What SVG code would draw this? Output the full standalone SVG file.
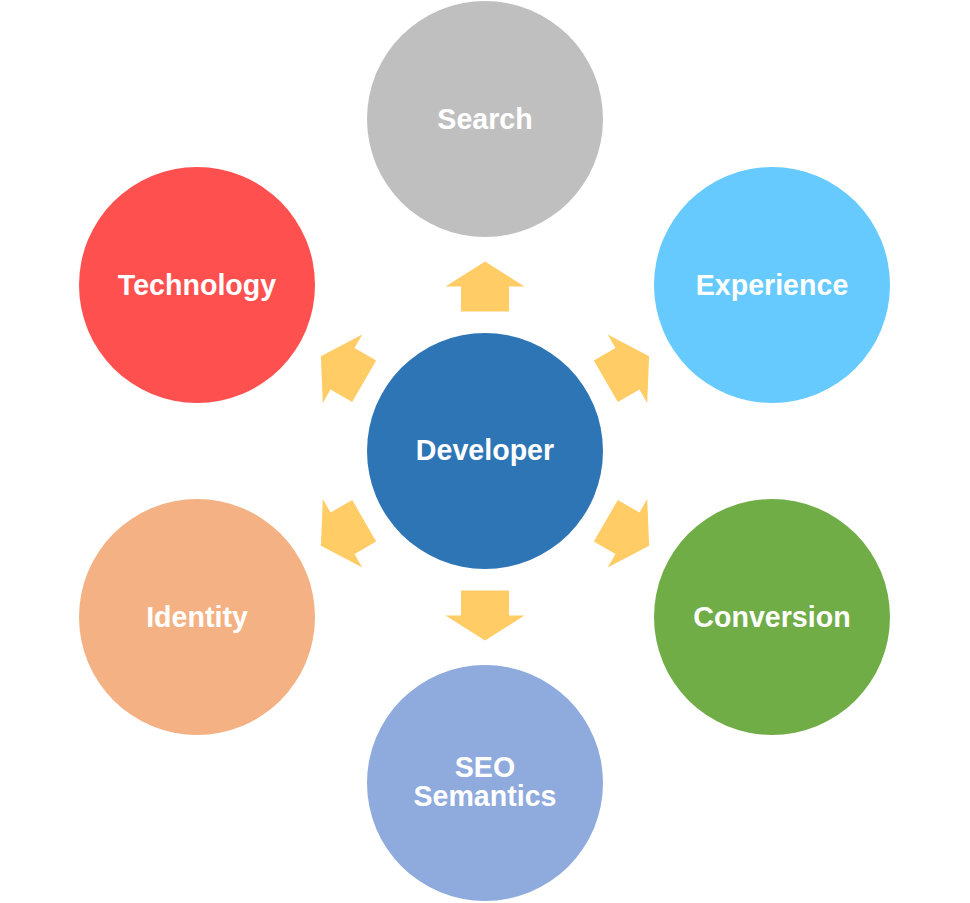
<svg xmlns="http://www.w3.org/2000/svg" width="970" height="903" viewBox="0 0 970 903">
<defs>
<style>
.lbl{font-family:"Liberation Sans",Arial,sans-serif;font-weight:bold;font-size:28.6px;fill:#fff;text-anchor:middle}
.arr{fill:#FFCC66}
</style>
<polygon id="a" points="-24,-139.5 24,-139.5 24,-164.5 39.5,-164.5 0,-189.5 -39.5,-164.5 -24,-164.5"/>
</defs>
<rect width="970" height="903" fill="#fff"/>
<g id="connectors" class="arr">
<use href="#a" transform="translate(485,451)"/>
<use href="#a" transform="translate(485,451) rotate(60)"/>
<use href="#a" transform="translate(485,451) rotate(120)"/>
<use href="#a" transform="translate(485,451) rotate(180)"/>
<use href="#a" transform="translate(485,451) rotate(240)"/>
<use href="#a" transform="translate(485,451) rotate(300)"/>
</g>
<g id="developer"><circle cx="485" cy="451" r="118" fill="#2E75B6"/><text class="lbl" x="485" y="460">Developer</text></g>
<g id="search"><circle cx="485" cy="119" r="118" fill="#BFBFBF"/><text class="lbl" x="485" y="128.5">Search</text></g>
<g id="experience"><circle cx="772" cy="285" r="118" fill="#66CAFF"/><text class="lbl" x="772" y="294.5">Experience</text></g>
<g id="conversion"><circle cx="772" cy="617" r="118" fill="#70AD47"/><text class="lbl" x="772" y="626.5">Conversion</text></g>
<g id="seo"><circle cx="485" cy="783" r="118" fill="#8FAADC"/><text class="lbl" x="485" y="777"><tspan x="485" y="777">SEO</tspan><tspan x="485" y="805.5">Semantics</tspan></text></g>
<g id="identity"><circle cx="197" cy="617" r="118" fill="#F4B183"/><text class="lbl" x="197" y="626.5">Identity</text></g>
<g id="technology"><circle cx="197" cy="285" r="118" fill="#FF5050"/><text class="lbl" x="197" y="294.5">Technology</text></g>
</svg>
